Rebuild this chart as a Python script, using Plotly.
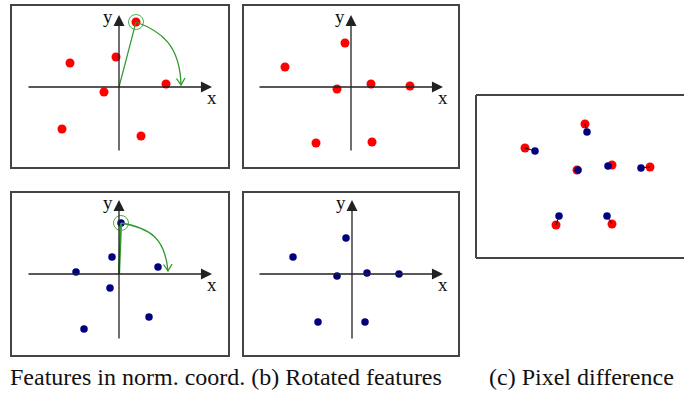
import plotly.graph_objects as go

W, H = 684, 394
PX = 10.0  # pixels per data unit

# ---- data (normalized units, origin at axis crossing, y up) ----
feat_red_x = [1.7, -4.9, -0.3, 4.7, -1.5, -5.7, 2.2]
feat_red_y = [6.5, 2.4, 3.0, 0.3, -0.5, -4.2, -4.9]
rot_red_x = [-0.6, -6.6, 2.0, 5.9, -1.4, -3.5, 2.1]
rot_red_y = [4.4, 2.0, 0.3, 0.1, -0.2, -5.6, -5.5]
feat_blue_x = [0.2, -0.7, -4.3, 3.9, -0.9, 3.0, -3.5]
feat_blue_y = [5.1, 1.7, 0.2, 0.7, -1.4, -4.3, -5.5]
rot_blue_x = [-0.6, -5.9, 1.5, 4.7, -1.5, -3.4, 1.3]
rot_blue_y = [3.6, 1.7, 0.1, 0.0, -0.2, -4.8, -4.8]
diff_red_x = [-0.8, -6.8, 1.9, 5.7, -1.6, -3.7, 1.9]
diff_red_y = [4.4, 2.0, 0.3, 0.1, -0.2, -5.7, -5.6]
diff_blue_x = [-0.6, -5.8, 1.5, 4.8, -1.5, -3.4, 1.4]
diff_blue_y = [3.6, 1.7, 0.2, 0.0, -0.2, -4.8, -4.8]

caption_left = "Features in norm. coord. (b) Rotated features"
caption_right = "(c) Pixel difference"

RED = "#ff0000"
BLUE = "#000080"
GREEN = "#2e9a2e"
BORDER = "#444444"
AXIS = "#222222"
SERIF = "Liberation Serif, Times New Roman, serif"

# ---- panel layout (pixel boxes) ----
panels = [
    dict(box=(11, 5, 229, 168), origin=(119, 87), ax_x=(-9.2, 9.3), ax_y=(-6.5, 7.2)),
    dict(box=(243, 5, 459, 168), origin=(351, 87), ax_x=(-9.3, 9.2), ax_y=(-6.5, 7.2)),
    dict(box=(11, 192, 229, 356), origin=(119, 274), ax_x=(-9.2, 9.3), ax_y=(-6.6, 7.4)),
    dict(box=(243, 192, 459, 356), origin=(352, 274), ax_x=(-9.4, 9.1), ax_y=(-6.6, 7.4)),
    dict(box=(476, 95, 684, 258), origin=(593, 168), ax_x=None, ax_y=None),
]

fig = go.Figure()
layout = dict(width=W, height=H, margin=dict(l=0, r=0, t=0, b=0),
              paper_bgcolor="white", plot_bgcolor="white", showlegend=False)
shapes, annos = [], []

for i, p in enumerate(panels, start=1):
    bx0, by0, bx1, by1 = p["box"]
    ox, oy = p["origin"]
    sfx = "" if i == 1 else str(i)
    layout["xaxis" + sfx] = dict(domain=[bx0 / W, bx1 / W],
                                 range=[(bx0 - ox) / PX, (bx1 - ox) / PX],
                                 visible=False, fixedrange=True, anchor="y" + sfx)
    layout["yaxis" + sfx] = dict(domain=[(H - by1) / H, (H - by0) / H],
                                 range=[(oy - by1) / PX, (oy - by0) / PX],
                                 visible=False, fixedrange=True, anchor="x" + sfx)
    xr, yr = "x" + sfx, "y" + sfx
    if i < 5:
        shapes.append(dict(type="rect", xref=xr + " domain", yref=yr + " domain",
                           x0=0, x1=1, y0=0, y1=1, line=dict(color=BORDER, width=2)))
        # axes with arrowheads
        annos.append(dict(x=p["ax_x"][1], y=0, ax=p["ax_x"][0], ay=0, xref=xr, yref=yr,
                          axref=xr, ayref=yr, text="", showarrow=True, arrowhead=2,
                          arrowsize=1.7, arrowwidth=1.3, arrowcolor=AXIS, standoff=0))
        annos.append(dict(x=0, y=p["ax_y"][1], ax=0, ay=p["ax_y"][0], xref=xr, yref=yr,
                          axref=xr, ayref=yr, text="", showarrow=True, arrowhead=2,
                          arrowsize=1.7, arrowwidth=1.3, arrowcolor=AXIS, standoff=0))
        annos.append(dict(x=-1.1, y=p["ax_y"][1] - 0.2, xref=xr, yref=yr, text="y",
                          showarrow=False, font=dict(family=SERIF, size=19, color="#111")))
        annos.append(dict(x=p["ax_x"][1], y=-1.0, xref=xr, yref=yr, text="x",
                          showarrow=False, font=dict(family=SERIF, size=19, color="#111")))
    else:
        for (a, b, c, d) in [(0, 1, 0, 0), (0, 1, 1, 1), (0, 0, 0, 1)]:
            shapes.append(dict(type="line", xref=xr + " domain", yref=yr + " domain",
                               x0=a, x1=b, y0=c, y1=d, line=dict(color=BORDER, width=2)))

# green rotation illustrations (panels a and c)
def rot_arrow(xr, yr, px, py, tip, c1, c2, line_w):
    shapes.append(dict(type="line", xref=xr, yref=yr, x0=0, y0=0, x1=px, y1=py,
                       line=dict(color=GREEN, width=line_w), layer="above"))
    shapes.append(dict(type="circle", xref=xr, yref=yr, x0=px - 0.75, x1=px + 0.75,
                       y0=py - 0.75, y1=py + 0.75, line=dict(color="#4caf50", width=1)))
    path = f"M {px},{py} C {c1[0]},{c1[1]} {c2[0]},{c2[1]} {tip[0]},{tip[1]}"
    shapes.append(dict(type="path", xref=xr, yref=yr, path=path,
                       line=dict(color=GREEN, width=1.3)))
    tx, ty = tip
    v = f"M {tx - 0.45},{ty + 0.65} L {tx},{ty} L {tx + 0.4},{ty + 0.7}"
    shapes.append(dict(type="path", xref=xr, yref=yr, path=v,
                       line=dict(color=GREEN, width=1.3)))

rot_arrow("x", "y", feat_red_x[0], feat_red_y[0], (6.2, 0.2), (4.2, 5.6), (6.1, 4.2), 1.2)
rot_arrow("x3", "y3", feat_blue_x[0], feat_blue_y[0], (4.9, 0.3), (3.1, 4.6), (4.6, 3.6), 2.2)

def dots(xs, ys, xr, yr, color, size):
    fig.add_trace(go.Scatter(x=xs, y=ys, xaxis=xr, yaxis=yr, mode="markers",
                             marker=dict(color=color, size=size, line=dict(width=0)),
                             hoverinfo="skip"))

dots(feat_red_x, feat_red_y, "x", "y", RED, 9)
dots(rot_red_x, rot_red_y, "x2", "y2", RED, 9)
dots(feat_blue_x, feat_blue_y, "x3", "y3", BLUE, 7.5)
dots(rot_blue_x, rot_blue_y, "x4", "y4", BLUE, 7.5)

# pixel difference panel
dots(diff_red_x, diff_red_y, "x5", "y5", RED, 9)
lx, ly = [], []
for a, b, c, d in zip(diff_red_x, diff_red_y, diff_blue_x, diff_blue_y):
    lx += [a, c, None]
    ly += [b, d, None]
fig.add_trace(go.Scatter(x=lx, y=ly, xaxis="x5", yaxis="y5", mode="lines",
                         line=dict(color="#111", width=1), hoverinfo="skip"))
dots(diff_blue_x, diff_blue_y, "x5", "y5", BLUE, 7.5)

# captions
annos.append(dict(x=8 / W, y=1 - 377 / H, xref="paper", yref="paper", xanchor="left",
                  yanchor="middle", text=caption_left, showarrow=False,
                  font=dict(family=SERIF, size=24, color="#111")))
annos.append(dict(x=487 / W, y=1 - 377 / H, xref="paper", yref="paper", xanchor="left",
                  yanchor="middle", text=caption_right, showarrow=False,
                  font=dict(family=SERIF, size=24, color="#111")))

layout["shapes"] = shapes
layout["annotations"] = annos
fig.update_layout(**layout)
fig.write_html("out.html", config={"displayModeBar": False},
               post_script="document.body.style.margin='0';document.body.style.overflow='hidden';")
